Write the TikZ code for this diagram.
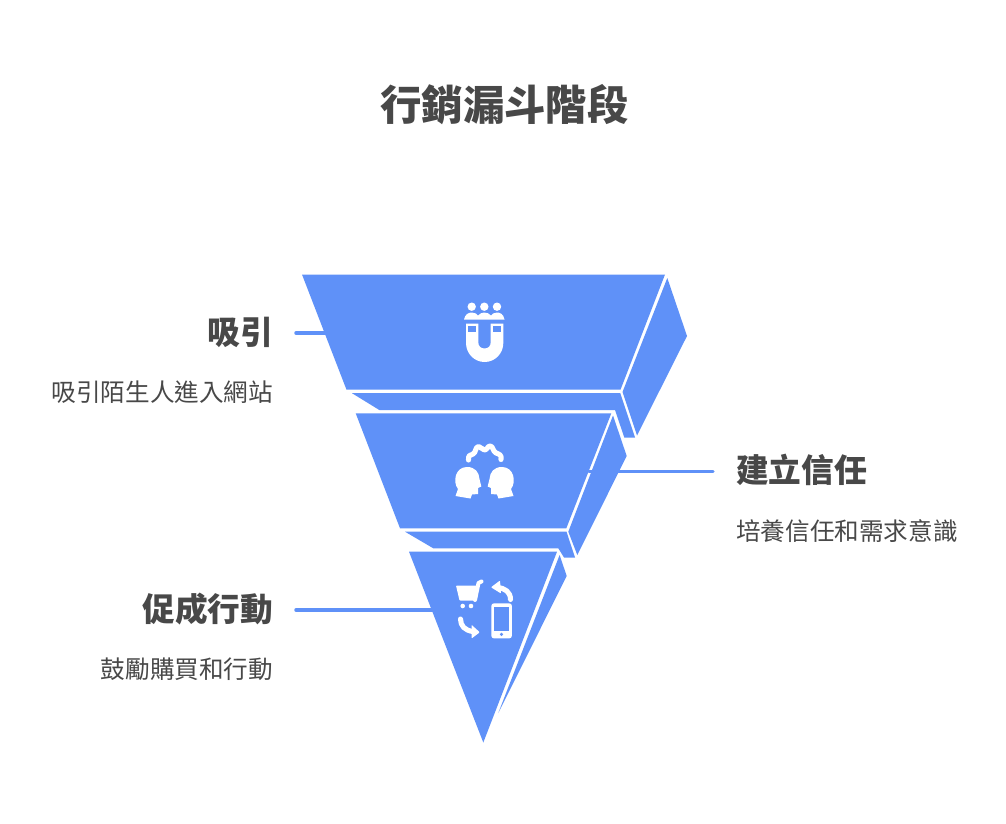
\documentclass[tikz,border=0pt]{standalone}
\usepackage{fontspec}
\setmainfont{Noto Sans CJK TC}
\definecolor{fblue}{HTML}{5F91F8}
\definecolor{ink}{HTML}{484848}
\tikzset{x=0.75pt,y=-0.75pt,
 band/.style={fill=fblue,draw=none},
 lead/.style={draw=fblue,line width=2.6pt,line cap=round},
 ttl/.style={text=ink,font=\fontsize{31.1}{36}\selectfont\bfseries,inner sep=0pt},
 hd/.style={text=ink,font=\fontsize{24.5}{30}\selectfont\bfseries,inner sep=0pt},
 sb/.style={text=ink,font=\fontsize{18.45}{24}\selectfont,inner sep=0pt},
 ico/.style={fill=white,draw=none},
 icl/.style={draw=white,line cap=round,line join=round,fill=none}}
\begin{document}
\begin{tikzpicture}
\useasboundingbox[fill=white] (0,0) rectangle (1006,824);
\node[ttl] (title) at (504.5,105) {行銷漏斗階段};
% leaders behind
\coordinate (l1a) at (296,333); \coordinate (l1b) at (330,333);
\coordinate (l2a) at (713,471.5); \coordinate (l2b) at (589,471.5);
\coordinate (l3a) at (296,610); \coordinate (l3b) at (435,610);
\draw[lead] (l1a)--(l1b);
\draw[lead] (l3a)--(l3b);
% funnel
\fill[band] (302,274.5)--(665,274.5)--(620.5,389.7)--(346.5,389.7)--cycle;
\fill[band] (667.3,278)--(687,336)--(637,435.5)--(622.5,392)--cycle;
\fill[band] (352,393.2)--(620.3,393.2)--(635,437.5)--(624.3,437.5)--(615,410)--(379.3,410)--cycle;
\fill[band] (355.7,413.3)--(611.3,413.3)--(566.3,528.3)--(400,528.3)--cycle;
\fill[band] (613,415.5)--(626.7,456)--(577.3,555)--(568.3,531.7)--cycle;
\fill[band] (405,531.7)--(566.5,531.7)--(575,557.5)--(564,557.5)--(558.3,548.3)--(433.3,548.3)--cycle;
\fill[band] (409,551.7)--(557,551.7)--(483.3,742.5)--cycle;
\fill[band] (559.6,555)--(566.7,576)--(498.3,713)--cycle;
\draw[lead] (l2a)--(l2b);
% icon 1: people and magnet
\foreach \cx in {471.7,484.3,497}{\fill[ico] (\cx,306.7) circle (4.2);}
\fill[ico] (464,319.5) .. controls (465,314) and (469,312.5) .. (471.7,312.5) .. controls (475,312.5) and (477,314) .. (478,315.5) .. controls (480,313.5) and (482,312.5) .. (484.3,312.5) .. controls (487,312.5) and (489,313.5) .. (491,315.5) .. controls (492,314) and (494,312.5) .. (497,312.5) .. controls (500,312.5) and (503.5,314) .. (504.5,319.5) --cycle;
\fill[ico] (466,323.5) -- (478.3,323.5) -- (478.3,342) .. controls (478.3,346) and (480.5,348.5) .. (484.5,348.5) .. controls (488.5,348.5) and (490.7,346) .. (490.7,342) -- (490.7,323.5) -- (503.3,323.5) -- (503.3,343) .. controls (503.3,353.5) and (495,362) .. (484.6,362) .. controls (474.3,362) and (466,353.5) .. (466,343) -- cycle;
\fill[fblue] (468.3,326) rectangle (476,332);
\fill[fblue] (493.3,326) rectangle (500.7,332);
% icon 2: two heads
\draw[icl,line width=3.8pt] (468.5,460) .. controls (468,455.5) and (470,455) .. (473,454) .. controls (476,453) and (475,447) .. (478.5,446.5) .. controls (481,446.5) and (482,450) .. (484.5,450) .. controls (487,450) and (488,445.5) .. (490.5,446) .. controls (493,446.5) and (493,451.5) .. (496,453) .. controls (499,454) and (502,455) .. (501,459.5);
\fill[ico] (455.5,496) -- (458,489) .. controls (452.5,482) and (455,467) .. (467,467) .. controls (475,467) and (479,472) .. (479.5,479) -- (481.3,486.5) -- (478,488) -- (478,494) -- (472,494.5) -- (470.5,498.5) -- cycle;
\fill[ico] (513.5,496) -- (511,489) .. controls (516.5,482) and (514,467) .. (502,467) .. controls (494,467) and (490,472) .. (489.5,479) -- (487.7,486.5) -- (491,488) -- (491,494) -- (497,494.5) -- (498.5,498.5) -- cycle;
% icon 3: cart, phone, arrows
\fill[ico,rounded corners=0.6pt] (456,585.5) -- (477.5,585.5) -- (474.5,600.5) -- (459.5,600.5) -- cycle;
\draw[icl,line width=3pt] (481.5,581.5) -- (478.5,583) -- (475,600);
\fill[ico] (462.7,606) circle (2.3);
\fill[ico] (471,606) circle (2.3);
\draw[icl,line width=3.8pt] (510.5,599.5) .. controls (510.5,592) and (505,588) .. (497,587.5);
\fill[ico,rounded corners=0.6pt] (491,587.3) -- (500,580.5) -- (501,593.5) -- cycle;
\draw[icl,line width=3.8pt] (460.5,619) .. controls (460.5,626) and (465,630.5) .. (473,631.5);
\fill[ico,rounded corners=0.6pt] (479.8,632.3) -- (471.5,624.8) -- (471.5,638.5) -- cycle;
\fill[ico,rounded corners=2pt] (491.3,603.3) rectangle (511.9,638.4);
\fill[fblue] (494.3,606.7) rectangle (509,630.7);
\fill[fblue] (501.5,634.4) circle (1.7);
% labels
\node[hd,anchor=east] (h1) at (273.3,332) {吸引};
\node[sb,anchor=east] (s1) at (273.3,392) {吸引陌生人進入網站};
\node[hd,anchor=west] (h2) at (736,470) {建立信任};
\node[sb,anchor=west] (s2) at (736,531) {培養信任和需求意識};
\node[hd,anchor=east] (h3) at (273.3,609) {促成行動};
\node[sb,anchor=east] (s3) at (273.3,669) {鼓勵購買和行動};
\end{tikzpicture}
\end{document}
